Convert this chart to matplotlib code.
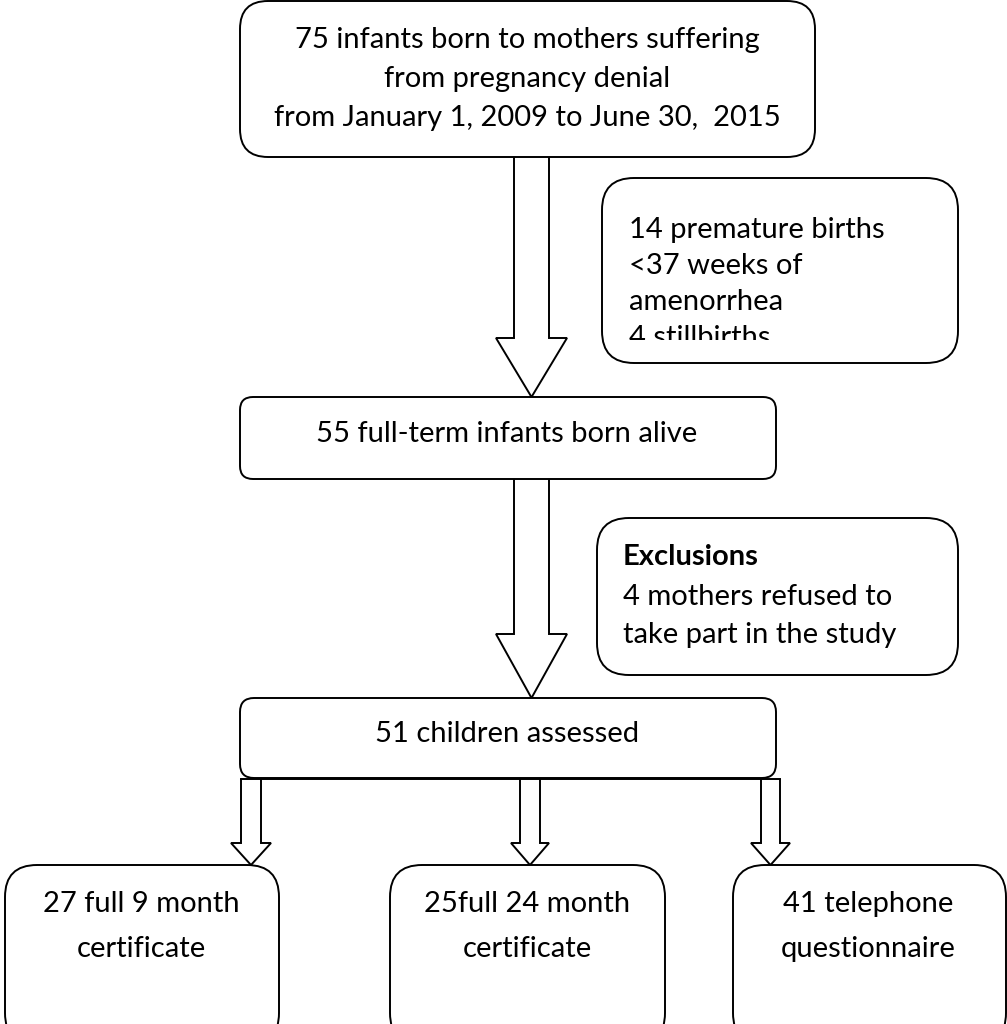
import matplotlib
matplotlib.use("Agg")
import matplotlib.pyplot as plt
from matplotlib.patches import FancyBboxPatch, Polygon, Rectangle

plt.rcParams['font.family'] = ['Lato', 'DejaVu Sans']

# box texts, one entry per line
top_lines = ["75 infants born to mothers suffering", "from pregnancy denial",
             "from January 1, 2009 to June 30,  2015"]
side1_lines = ["14 premature births", "<37 weeks of", "amenorrhea", "4 stillbirths"]
mid_text = "55 full-term infants born alive"
side2_title = "Exclusions"
side2_lines = ["4 mothers refused to", "take part in the study"]
assessed_text = "51 children assessed"
bottom_lines = [["27 full 9 month", "certificate"],
                ["25full 24 month", "certificate"],
                ["41 telephone", "questionnaire"]]

fig = plt.figure(figsize=(10.07, 10.24), dpi=100)
ax = fig.add_axes([0, 0, 1, 1])
ax.set_xlim(0, 1007)
ax.set_ylim(1024, 0)
ax.axis("off")

LW = 1.4
FS = 21


def box(x0, y0, x1, y1, r):
    p = FancyBboxPatch((x0 + r, y0 + r), x1 - x0 - 2 * r, y1 - y0 - 2 * r,
                       boxstyle="round,pad=%g" % r, fc="white", ec="black",
                       lw=LW, zorder=2)
    ax.add_patch(p)
    return p


def block_arrow(xl, xr, y0, yb, hl, hr, ytip):
    xm = (hl + hr) / 2
    pts = [(xl, y0), (xl, yb), (hl, yb), (xm, ytip), (hr, yb), (xr, yb), (xr, y0)]
    ax.add_patch(Polygon(pts, closed=False, fc="white", ec="black", lw=LW, zorder=1))


def txt(x, y, s, ha="center", **kw):
    return ax.text(x, y, s, ha=ha, va="baseline", fontsize=FS, zorder=3, **kw)


# top box
box(240, 1, 815, 157, 28)
for i, s in enumerate(top_lines):
    txt(527, 48 + i * 39, s)

# arrow 1
block_arrow(514, 549, 150, 338, 496, 567, 397)

# side box 1 (last line cut by the box)
box(602, 178, 958, 363, 32)
clip = Rectangle((602, 178), 356, 162, transform=ax.transData)
for i, s in enumerate(side1_lines):
    t = txt(629, 238 + i * 36, s, ha="left")
    t.set_clip_on(True)
    t.set_clip_path(clip)

# box 2
box(240, 397, 776, 479, 13)
txt(507, 442, mid_text)

# arrow 2
block_arrow(514, 549, 479, 634, 496, 567, 698)

# side box 2
box(597, 518, 958, 675, 32)
txt(623, 565, side2_title, ha="left", fontweight="bold")
for i, s in enumerate(side2_lines):
    txt(623, 605 + i * 38, s, ha="left")

# box 3
box(240, 698, 776, 778, 14)
txt(507, 742, assessed_text)

# small arrows to bottom boxes
small = [(241, 261, 231, 271), (520, 540, 511, 549), (761, 780, 751, 790)]
for xl, xr, hl, hr in small:
    block_arrow(xl, xr, 779, 843, hl, hr, 865)
ax.plot([241, 780], [779, 779], color="black", lw=LW, zorder=3)

# bottom boxes (cut off by the image edge)
bottom_x = [(5, 279), (390, 665), (733, 1006)]
bottom_cx = [141, 527, 868]
for (x0, x1), cx, lines in zip(bottom_x, bottom_cx, bottom_lines):
    box(x0, 865, x1, 1045, 32)
    for i, s in enumerate(lines):
        txt(cx, 912 + i * 45, s)

fig.savefig("out.png", dpi=100)
